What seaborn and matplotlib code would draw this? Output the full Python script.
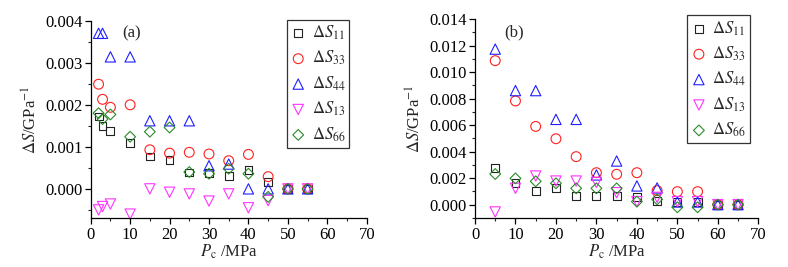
import numpy as np
import pandas as pd
import matplotlib
matplotlib.use("Agg")
import matplotlib.pyplot as plt
import seaborn as sns
from matplotlib.ticker import MultipleLocator

sns.set_style("ticks")
plt.rcParams['font.family'] = ['Liberation Serif', 'DejaVu Serif']
plt.rcParams['mathtext.fontset'] = 'stix'

# ---------------- Data (a) ----------------
pa = [2, 3, 5, 10, 15, 20, 25, 30, 35, 40, 45, 50, 55]
a_S11 = [1.72e-3, 1.50e-3, 1.38e-3, 1.10e-3, 0.77e-3, 0.69e-3, 0.39e-3, 0.38e-3, 0.31e-3, 0.44e-3, 0.17e-3, 0.0, 0.0]
a_S33 = [2.49e-3, 2.13e-3, 1.94e-3, 2.00e-3, 0.93e-3, 0.85e-3, 0.87e-3, 0.83e-3, 0.67e-3, 0.82e-3, 0.29e-3, 0.0, 0.0]
a_S44 = [3.70e-3, 3.70e-3, 3.14e-3, 3.14e-3, 1.62e-3, 1.62e-3, 1.62e-3, 0.55e-3, 0.59e-3, 0.0, 0.0, 0.0, 0.0]
a_S13 = [-0.50e-3, -0.42e-3, -0.36e-3, -0.60e-3, 0.0, -0.08e-3, -0.12e-3, -0.29e-3, -0.12e-3, -0.45e-3, -0.28e-3, 0.0, 0.0]
a_S66 = [1.80e-3, 1.66e-3, 1.77e-3, 1.24e-3, 1.36e-3, 1.46e-3, 0.40e-3, 0.36e-3, 0.48e-3, 0.36e-3, -0.19e-3, 0.0, 0.0]

# ---------------- Data (b) ----------------
pb = [5, 10, 15, 20, 25, 30, 35, 40, 45, 50, 55, 60, 65]
b_S11 = [2.79e-3, 1.66e-3, 1.06e-3, 1.23e-3, 0.68e-3, 0.68e-3, 0.65e-3, 0.60e-3, 0.30e-3, 0.23e-3, 0.23e-3, 0.0, 0.0]
b_S33 = [10.86e-3, 7.82e-3, 5.90e-3, 4.97e-3, 3.62e-3, 2.41e-3, 2.29e-3, 2.41e-3, 1.06e-3, 0.98e-3, 0.98e-3, 0.0, 0.0]
b_S44 = [11.73e-3, 8.60e-3, 8.60e-3, 6.43e-3, 6.43e-3, 2.24e-3, 3.29e-3, 1.41e-3, 1.26e-3, 0.20e-3, 0.20e-3, 0.0, 0.0]
b_S13 = [-0.55e-3, 1.23e-3, 2.16e-3, 1.78e-3, 1.78e-3, 1.68e-3, 0.90e-3, 0.23e-3, 0.55e-3, 0.23e-3, 0.23e-3, 0.0, 0.0]
b_S66 = [2.31e-3, 1.98e-3, 1.76e-3, 1.61e-3, 1.23e-3, 1.23e-3, 1.23e-3, 0.23e-3, 0.40e-3, -0.20e-3, -0.20e-3, 0.0, 0.0]

labels = [r'$\Delta \mathit{S}_{\mathrm{11}}$', r'$\Delta \mathit{S}_{\mathrm{33}}$',
          r'$\Delta \mathit{S}_{\mathrm{44}}$', r'$\Delta \mathit{S}_{\mathrm{13}}$',
          r'$\Delta \mathit{S}_{\mathrm{66}}$']
colors = ['#222222', '#ff2020', '#1f1fff', '#ff33ff', '#2a8a2a']
markers = ['s', 'o', '^', 'v', 'D']
sizes = [32, 50, 55, 55, 30]

fig = plt.figure(figsize=(7.88, 2.67), dpi=100)
axa = fig.add_axes([0.1151, 0.1824, 0.3503, 0.7400])
axb = fig.add_axes([0.6028, 0.1824, 0.3595, 0.7464])


def draw(ax, x, series):
    for ys, lab, c, m, s in zip(series, labels, colors, markers, sizes):
        df = pd.DataFrame({'P': x, 'S': ys})
        sns.scatterplot(data=df, x='P', y='S', ax=ax, marker=m, s=s,
                        color=c, facecolor='none', edgecolor=c,
                        linewidth=0.8, label=lab, zorder=3)


draw(axa, pa, [a_S11, a_S33, a_S44, a_S13, a_S66])
draw(axb, pb, [b_S11, b_S33, b_S44, b_S13, b_S66])

for ax in (axa, axb):
    ax.set_xlim(0, 70)
    ax.xaxis.set_major_locator(MultipleLocator(10))
    ax.xaxis.set_minor_locator(MultipleLocator(5))
    sns.despine(ax=ax)
    for sp in ('left', 'bottom'):
        ax.spines[sp].set_linewidth(0.9)
        ax.spines[sp].set_color('black')
    ax.tick_params(which='major', direction='out', length=4, width=0.9,
                   labelsize=12, colors='black', pad=2)
    ax.tick_params(which='minor', direction='out', length=2.5, width=0.8)
    ax.set_xlabel(r'$\mathit{P}_{\mathrm{c}}$ /MPa', fontsize=12, labelpad=0)
    ax.set_ylabel(r'$\Delta \mathit{S}$/GPa$^{-1}$', fontsize=12, labelpad=3)

axa.set_ylim(-0.0007, 0.004)
axa.yaxis.set_major_locator(MultipleLocator(0.001))
axa.yaxis.set_minor_locator(MultipleLocator(0.0005))
axa.yaxis.set_major_formatter(matplotlib.ticker.FormatStrFormatter('%.3f'))

axb.set_ylim(-0.00103, 0.014)
axb.yaxis.set_major_locator(MultipleLocator(0.002))
axb.yaxis.set_minor_locator(MultipleLocator(0.001))
axb.yaxis.set_major_formatter(matplotlib.ticker.FormatStrFormatter('%.3f'))

axa.text(131.7 / 788, 1 - 33.3 / 267, '(a)', transform=fig.transFigure,
         fontsize=12, ha='center', va='center')
axb.text(514 / 788, 1 - 32.3 / 267, '(b)', transform=fig.transFigure,
         fontsize=12, ha='center', va='center')

for ax, anchor in ((axa, (349.3 / 788, 1 - 19.5 / 267)), (axb, (750 / 788, 1 - 15 / 267))):
    leg = ax.legend(loc='upper right', bbox_to_anchor=anchor,
                    bbox_transform=fig.transFigure, borderaxespad=0,
                    fontsize=12, frameon=True, fancybox=False,
                    edgecolor='black', handletextpad=0.35, handlelength=0.9,
                    labelspacing=0.42, borderpad=0.25)
    leg.get_frame().set_linewidth(0.9)

fig.savefig('out.png', dpi=100, facecolor='white')
